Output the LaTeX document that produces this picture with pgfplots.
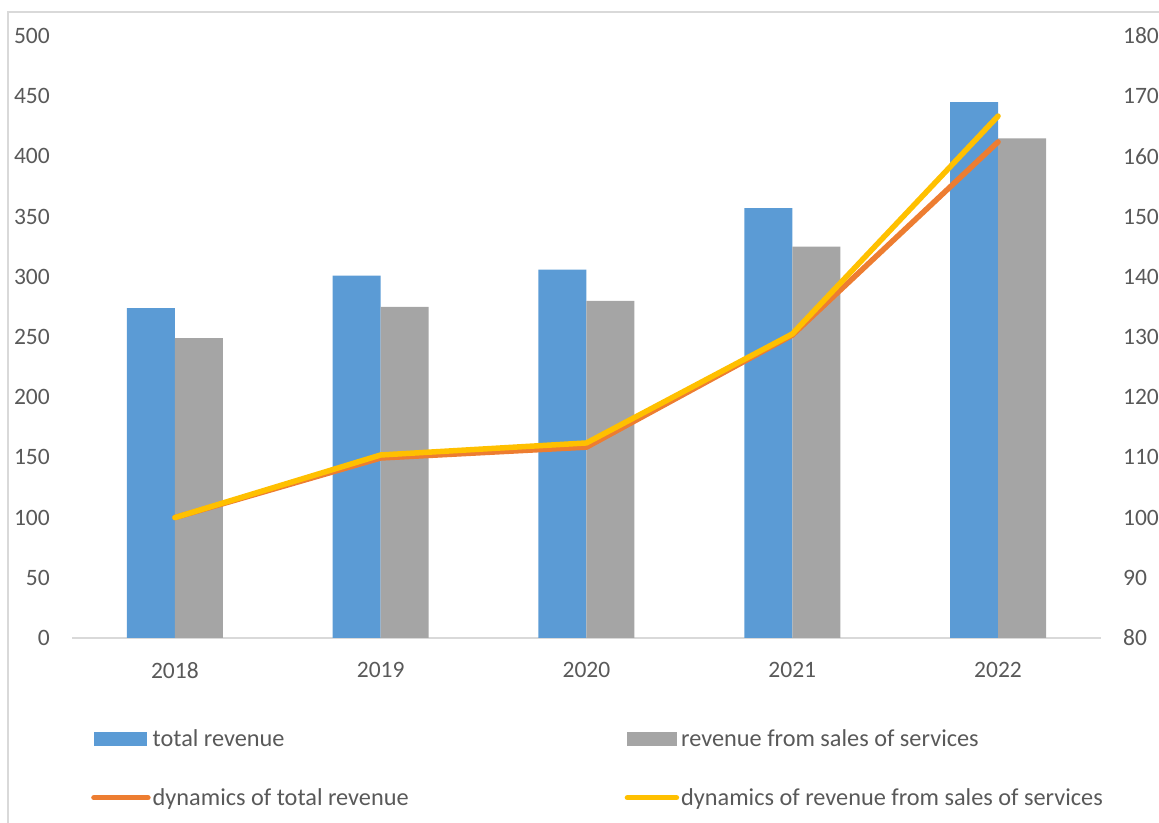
\documentclass[border=0pt]{standalone}
\usepackage{fontspec}
\setmainfont{Carlito}
\usepackage{pgfplots}
\pgfplotsset{compat=1.18}
\definecolor{cblue}{HTML}{5B9BD5}
\definecolor{cgray}{HTML}{A5A5A5}
\definecolor{corange}{HTML}{ED7D31}
\definecolor{cyellow}{HTML}{FFC000}
\definecolor{axgray}{HTML}{D9D9D9}
\definecolor{txtgray}{HTML}{595959}
\pgfplotsset{
  lineleg/.style={legend image code/.code={\draw[##1] (0bp,0bp) -- (#1,0bp);}},
}
\begin{document}
\begin{tikzpicture}[font=\fontsize{23.5bp}{28bp}\selectfont]
\path[use as bounding box] (0bp,0bp) rectangle (1159bp,823bp);
\draw[axgray, line width=1.5bp] (8bp,0bp) -- (8bp,811bp) -- (1159bp,811bp);
\begin{axis}[
  at={(72bp,185bp)}, anchor=south west, scale only axis,
  width=1029bp, height=602bp,
  xmin=-0.5, xmax=4.5, ymin=0, ymax=500,
  ytick={0,50,...,500},
  xtick={0,1,2,3,4},
  xticklabels={2018,2019,2020,2021,2022},
  axis x line*=bottom, axis y line*=left,
  y axis line style={draw=none},
  x axis line style={draw=axgray, line width=1.5bp},
  major tick length=0pt,
  tick style={draw=none},
  /pgf/number format/assume math mode=true,
  ticklabel style={text=txtgray},
  yticklabel style={anchor=east, inner sep=0pt, xshift=-22bp},
  xticklabel style={anchor=north, inner sep=0pt, yshift=-24bp},
  clip=false,
]
\addplot[ybar, fill=cblue, draw=none, bar width=48bp, bar shift=-24bp]
  coordinates {(0,274) (1,301) (2,306) (3,357) (4,445)};
\addplot[ybar, fill=cgray, draw=none, bar width=48bp, bar shift=24bp]
  coordinates {(0,249) (1,275) (2,280) (3,325) (4,415)};
\end{axis}
\begin{axis}[
  at={(72bp,185bp)}, anchor=south west, scale only axis,
  width=1029bp, height=602bp,
  xmin=-0.5, xmax=4.5, ymin=80, ymax=180,
  ytick={80,90,...,180},
  axis y line*=right, axis x line=none,
  y axis line style={draw=none},
  major tick length=0pt,
  tick style={draw=none},
  /pgf/number format/assume math mode=true,
  ticklabel style={text=txtgray},
  yticklabel style={anchor=west, inner sep=0pt, xshift=22bp},
  clip=false,
  legend columns=2,
  legend cell align=left,
  legend style={at={(0,0)}, anchor=north west, xshift=16bp, yshift=-87bp,
    draw=none, fill=none, text=txtgray,
    font=\fontsize{24.3bp}{29bp}\selectfont,
    row sep=37bp,
    /tikz/every even column/.append style={column sep=0bp}},
]
\addlegendimage{legend image code/.code={\fill[cblue] (0bp,-6.5bp) rectangle (52bp,6.5bp);}}
\addlegendentry{\makebox[470bp][l]{total revenue}}
\addlegendimage{legend image code/.code={\fill[cgray] (0bp,-6.5bp) rectangle (49bp,6.5bp);}}
\addlegendentry{revenue from sales of services}
\addplot[color=corange, line width=5.5bp, line cap=round, line join=round, lineleg=54bp]
  coordinates {(0,100) (1,109.9) (2,111.7) (3,130.3) (4,162.4)};
\addlegendentry{\makebox[470bp][l]{dynamics of total revenue}}
\addplot[color=cyellow, line width=5.5bp, line cap=round, line join=round, lineleg=49bp]
  coordinates {(0,100) (1,110.4) (2,112.4) (3,130.5) (4,166.7)};
\addlegendentry{dynamics of revenue from sales of services}
\end{axis}
\end{tikzpicture}
\end{document}
